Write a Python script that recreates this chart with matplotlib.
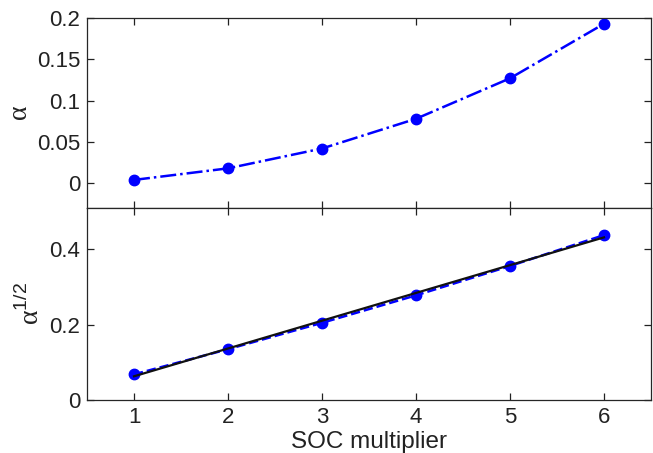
import numpy as np
import matplotlib
matplotlib.use("Agg")
import matplotlib.pyplot as plt

plt.rcParams['font.family'] = ['Liberation Sans', 'DejaVu Sans']
plt.rcParams['mathtext.fontset'] = 'custom'
plt.rcParams['mathtext.rm'] = 'Liberation Serif'
plt.rcParams['mathtext.sf'] = 'Liberation Sans'

# data
soc = [1, 2, 3, 4, 5, 6]
alpha = [0.004, 0.018, 0.042, 0.078, 0.127, 0.193]
sqrt_alpha = [0.068, 0.135, 0.205, 0.278, 0.356, 0.438]
fit_x = [1, 6]
fit_y = [0.063, 0.432]

fig = plt.figure(figsize=(6.53, 4.53), dpi=100)
ax1 = fig.add_axes([87/653, 1-208/453, (651-87)/653, (208-18)/453])
ax2 = fig.add_axes([87/653, 1-400/453, (651-87)/653, (400-208)/453], sharex=ax1)

blue = '#0000ff'
ax1.plot(soc, alpha, '-.', color=blue, lw=1.8, marker='o', ms=7.5)
ax2.plot(soc, sqrt_alpha, '--', color=blue, lw=1.8, marker='o', ms=7.5)
ax2.plot(fit_x, fit_y, '-', color='#111111', lw=1.6)

ax1.set_xlim(0.5, 6.5)
ax1.set_ylim(-0.03, 0.2)
ax1.set_yticks([0, 0.05, 0.1, 0.15, 0.2])
ax1.set_yticklabels(['0', '0.05', '0.1', '0.15', '0.2'])
ax2.set_ylim(0, 0.51)
ax2.set_yticks([0, 0.2, 0.4])
ax2.set_yticklabels(['0', '0.2', '0.4'])
ax2.set_xticks(soc)
plt.setp(ax1.get_xticklabels(), visible=False)

txt = '#222222'
for ax in (ax1, ax2):
    ax.tick_params(direction='in', top=True, right=True, length=5, width=0.9,
                   labelsize=16, colors=txt, pad=5)
    for s in ax.spines.values():
        s.set_linewidth(0.9)
        s.set_color('#262626')

ax1.set_ylabel(r'$\mathrm{\alpha}$', fontsize=20, color=txt, labelpad=3)
ax2.set_ylabel(r'$\mathrm{\alpha}^{\mathsf{1/2}}$', fontsize=20, color=txt, labelpad=3)
ax2.set_xlabel('SOC multiplier', fontsize=17.5, color=txt, labelpad=2)

fig.savefig('out.png', dpi=100)
